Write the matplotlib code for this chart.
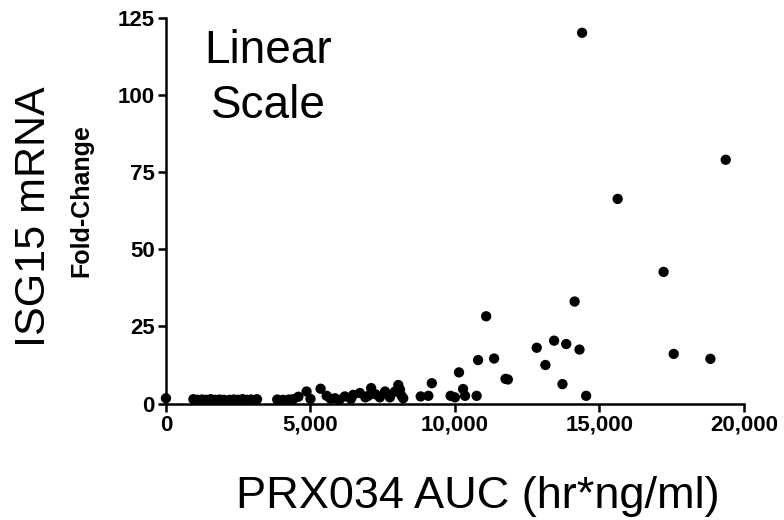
import matplotlib
matplotlib.use('Agg')
import matplotlib.pyplot as plt
from matplotlib.ticker import FuncFormatter

# PRX034 AUC (hr*ng/ml) vs ISG15 mRNA fold-change
auc = [0, 950, 1100, 1250, 1400, 1550, 1700, 1850, 2000,
       2200, 2350, 2500, 2650, 2800, 2950, 3150,
       3850, 4050, 4250, 4400,
       4580, 4865, 5000, 5350, 5560, 5700, 5845, 6000, 6190, 6400,
       6480, 6710, 6900, 7000, 7100, 7250, 7400, 7580, 7750, 7925,
       8040, 8100, 8150, 8210,
       8815, 9080, 9200, 9850, 10000, 10140, 10280, 10350, 10750,
       10800, 11080, 11355, 11750, 11830, 12830, 13130, 13430, 13720,
       13850, 14140, 14310, 14400, 14540, 15630, 17220, 17570, 18840, 19370]
isg = [1.7, 1.4, 1.2, 1.3, 1.2, 1.4, 1.2, 1.3, 1.2,
       1.2, 1.3, 1.2, 1.4, 1.2, 1.3, 1.4,
       1.3, 1.2, 1.3, 1.4,
       2.2, 3.9, 1.5, 4.8, 2.5, 1.5, 1.7, 1.2, 2.3, 1.5,
       2.8, 3.4, 2.0, 2.5, 5.0, 3.0, 2.0, 3.9, 2.0, 3.9,
       6.0, 4.5, 2.5, 1.7,
       2.3, 2.5, 6.6, 2.5, 2.0, 10.1, 4.7, 2.5, 2.5,
       14.1, 28.3, 14.6, 8.0, 7.8, 18.1, 12.5, 20.4, 6.3,
       19.3, 33.1, 17.5, 120.3, 2.5, 66.4, 42.7, 16.1, 14.5, 79.1]

x_ticks = [0, 5000, 10000, 15000, 20000]
y_ticks = [0, 25, 50, 75, 100, 125]

plt.rcParams['font.family'] = ['Liberation Sans', 'DejaVu Sans']

fig = plt.figure(figsize=(7.84, 5.2), dpi=100)
ax = fig.add_axes([0.2117, 0.224, 0.7372, 0.7408])

ax.scatter(auc, isg, s=55, color='black', edgecolors='none', clip_on=False, zorder=3)

ax.set_xlim(0, 20000)
ax.set_ylim(0, 125)
ax.set_xticks(x_ticks)
ax.set_yticks(y_ticks)
ax.xaxis.set_major_formatter(FuncFormatter(lambda v, p: f'{v:,.0f}'))

for side in ['top', 'right']:
    ax.spines[side].set_visible(False)
for side in ['left', 'bottom']:
    ax.spines[side].set_linewidth(1.8)
ax.tick_params(direction='out', length=5.5, width=1.8, labelsize=16, pad=2.5)
for lbl in ax.get_xticklabels() + ax.get_yticklabels():
    lbl.set_fontweight('bold')

fig.text(0.61, 0.023, 'PRX034 AUC (hr*ng/ml)', fontsize=32.5, ha='center', va='baseline')
fig.text(0.044, 0.583, 'ISG15 mRNA', fontsize=31, rotation=90, ha='center', va='center')
fig.text(0.104, 0.615, 'Fold-Change', fontsize=18, fontweight='bold', rotation=90,
         ha='center', va='center')
fig.text(0.342, 1 - 63 / 520, 'Linear', fontsize=33, ha='center', va='baseline')
fig.text(0.342, 1 - 118 / 520, 'Scale', fontsize=33, ha='center', va='baseline')

fig.savefig('out.png', dpi=100)
